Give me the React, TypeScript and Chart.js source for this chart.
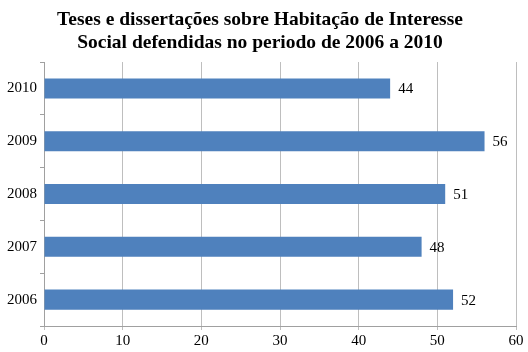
import React, { useEffect, useRef } from "react";
import { Chart, registerables } from "chart.js";

Chart.register(...registerables);

const titleLines = [
  "Teses e dissertações sobre Habitação de Interesse",
  "Social defendidas no periodo de 2006 a 2010",
];
const categories = ["2010", "2009", "2008", "2007", "2006"];
const values = [44, 56, 51, 48, 52];
const xMin = 0;
const xMax = 60;
const xStep = 10;

const FONT = "'Liberation Serif', 'Times New Roman', serif";

const valueLabels = {
  id: "valueLabels",
  afterDatasetsDraw(chart: any) {
    const ctx = chart.ctx;
    const meta = chart.getDatasetMeta(0);
    ctx.save();
    ctx.font = `15px ${FONT}`;
    ctx.fillStyle = "#000";
    ctx.textAlign = "left";
    ctx.textBaseline = "middle";
    meta.data.forEach((bar: any, i: number) => {
      ctx.fillText(String(chart.data.datasets[0].data[i]), bar.x + 8, bar.y + 1);
    });
    ctx.restore();
  },
};

export default function App() {
  const ref = useRef<HTMLCanvasElement | null>(null);
  useEffect(() => {
    if (!ref.current) return;
    const chart = new Chart(ref.current, {
      type: "bar",
      data: {
        labels: categories,
        datasets: [
          {
            data: values,
            backgroundColor: "#4F81BD",
            borderWidth: 0,
            barPercentage: 0.38,
            categoryPercentage: 1,
          },
        ],
      },
      options: {
        indexAxis: "y",
        animation: false,
        responsive: false,
        maintainAspectRatio: false,
        layout: { padding: { top: 6, left: 4, right: 12, bottom: 0 } },
        plugins: {
          legend: { display: false },
          tooltip: { enabled: false },
          title: {
            display: true,
            text: titleLines,
            color: "#000",
            font: { family: FONT, size: 19.5, weight: "bold", lineHeight: 1.18 },
            padding: { top: 2, bottom: 8 },
          },
        },
        scales: {
          x: {
            min: xMin,
            max: xMax,
            ticks: { stepSize: xStep, color: "#000", font: { family: FONT, size: 15 }, padding: 2 },
            grid: { color: "#BEBEBE", tickLength: 4, lineWidth: 1 },
            border: { color: "#A0A0A0" },
          },
          y: {
            ticks: { color: "#000", font: { family: FONT, size: 15 }, padding: 3 },
            grid: { drawOnChartArea: false, offset: true, tickLength: 4, color: "#A0A0A0" },
            border: { color: "#A0A0A0" },
          },
        },
      },
      plugins: [valueLabels],
    });
    return () => chart.destroy();
  }, []);
  return (
    <div style={{ position: "absolute", left: 0, top: 0, width: 528, height: 352, background: "#fff" }}>
      <canvas ref={ref} width={528} height={352} />
    </div>
  );
}
